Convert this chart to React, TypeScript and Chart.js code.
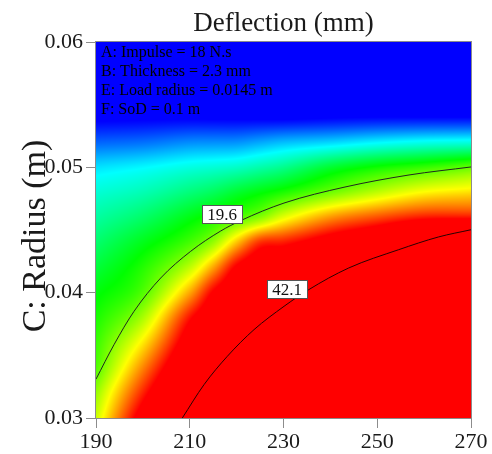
import React, { useEffect, useRef } from "react";
import { Chart, registerables } from "chart.js";

Chart.register(...registerables);

// ---- data ----
const deflectionCols = [190, 200, 210, 215, 220, 225, 230, 240, 250, 260, 270];
const radiusRows = [0.030, 0.032, 0.034, 0.036, 0.038, 0.040, 0.042, 0.044, 0.046, 0.048, 0.050, 0.052, 0.054, 0.056, 0.058, 0.060];

// response (deflection, mm) along each column, from radius 0.030 up to 0.060
const resp190 = [23.0, 21.3, 19.0, 18.2, 17.2, 16.1, 14.6, 13.0, 11.3, 9.6, 7.3, 3.2, -0.5, -2.2, -5.0, -8.0];
const resp200 = [35.0, 31.9, 28.7, 25.4, 22.0, 19.1, 17.6, 15.7, 13.2, 10.7, 8.1, 3.6, -0.4, -2.4, -5.2, -8.5];
const resp210 = [43.3, 40.7, 38.1, 35.4, 32.5, 27.6, 22.7, 18.7, 15.9, 12.6, 9.2, 4.5, -0.3, -2.5, -5.5, -9.0];
const resp215 = [46.6, 44.1, 41.6, 38.8, 36.0, 33.3, 27.7, 21.4, 17.3, 13.6, 9.6, 4.6, -0.35, -2.6, -5.8, -9.2];
const resp220 = [49.2, 46.7, 44.2, 41.6, 38.9, 36.2, 33.5, 26.7, 19.0, 15.0, 10.1, 4.7, -0.4, -2.8, -6.0, -9.5];
const resp225 = [54.5, 51.5, 48.2, 44.9, 41.6, 38.6, 35.6, 31.5, 20.9, 16.2, 11.0, 5.4, -0.45, -2.9, -6.0, -9.7];
const resp230 = [58.0, 54.5, 51.0, 47.5, 43.9, 40.1, 36.4, 32.2, 24.0, 17.4, 12.0, 6.1, -0.5, -3.0, -6.0, -10.0];
const resp240 = [65.8, 61.8, 57.7, 53.5, 49.2, 44.7, 40.0, 35.1, 28.2, 20.1, 14.95, 6.9, -0.2, -3.2, -6.5, -10.5];
const resp250 = [75.0, 70.5, 66.0, 61.0, 56.0, 50.5, 44.6, 37.9, 30.5, 22.7, 16.9, 8.0, 0.0, -3.5, -7.0, -11.0];
const resp260 = [85.0, 80.0, 75.0, 69.5, 63.5, 57.0, 50.0, 42.7, 32.3, 24.9, 18.2, 8.8, 0.0, -3.8, -7.5, -11.5];
const resp270 = [93.0, 88.0, 82.0, 76.0, 69.0, 62.0, 54.0, 46.0, 32.5, 25.8, 19.7, 9.2, 0.0, -4.0, -8.0, -12.0];
const responseColumns = [resp190, resp200, resp210, resp215, resp220, resp225, resp230, resp240, resp250, resp260, resp270];

const colorMin = 0;
const colorMax = 33;

// contour lines
const contour196X = [190, 193.84, 198.11, 203.8, 210.2, 216.6, 220.93, 230.1, 243.12, 256.77, 270];
const contour196Y = [0.0331, 0.03585, 0.03851, 0.04117, 0.0433, 0.04492, 0.04576, 0.04715, 0.04843, 0.04939, 0.05003];
const contour421X = [208.41, 213.04, 218.01, 223.71, 230.11, 235.38, 243.91, 254.58, 263.11, 270];
const contour421Y = [0.03, 0.03266, 0.03492, 0.03705, 0.03891, 0.04024, 0.04197, 0.04343, 0.04445, 0.04502];

const contourLabels = ["19.6", "42.1"];
const contourLabelX = [216.9, 230.75];
const contourLabelY = [0.04628, 0.04029];

const factorLines = [
  "A: Impulse = 18 N.s",
  "B: Thickness = 2.3 mm",
  "E: Load radius = 0.0145 m",
  "F: SoD = 0.1 m",
];

const xTicks = [190, 210, 230, 250, 270];
const yTicks = [0.03, 0.04, 0.05, 0.06];
const chartTitle = "Deflection (mm)";
const yTitle = "C: Radius (m)";

const SERIF = '"Liberation Serif", "Times New Roman", Times, serif';
const FRAME = "#8c8c8c";
const TEXT = "#1a1a1a";

const colorStops: [number, number, number][] = [
  [0, 0, 255],
  [0, 255, 255],
  [0, 255, 0],
  [255, 255, 0],
  [255, 0, 0],
];

function colorFor(v: number): [number, number, number] {
  let t = (v - colorMin) / (colorMax - colorMin);
  t = Math.max(0, Math.min(1, t));
  const s = t * (colorStops.length - 1);
  const i = Math.min(colorStops.length - 2, Math.floor(s));
  const f = s - i;
  const a = colorStops[i];
  const b = colorStops[i + 1];
  return [a[0] + (b[0] - a[0]) * f, a[1] + (b[1] - a[1]) * f, a[2] + (b[2] - a[2]) * f];
}

function locate(arr: number[], v: number): [number, number] {
  if (v <= arr[0]) return [0, 0];
  const n = arr.length;
  if (v >= arr[n - 1]) return [n - 2, 1];
  for (let i = 0; i < n - 1; i++) {
    if (v >= arr[i] && v <= arr[i + 1]) return [i, (v - arr[i]) / (arr[i + 1] - arr[i])];
  }
  return [n - 2, 1];
}

function tangent(pos: number[], vals: number[], i: number) {
  const n = pos.length;
  if (i <= 0) return (vals[1] - vals[0]) / (pos[1] - pos[0]);
  if (i >= n - 1) return (vals[n - 1] - vals[n - 2]) / (pos[n - 1] - pos[n - 2]);
  return (vals[i + 1] - vals[i - 1]) / (pos[i + 1] - pos[i - 1]);
}

// cubic Hermite (Catmull-Rom style tangents) on a non-uniform grid
function hermite(pos: number[], vals: number[], i: number, f: number) {
  const h = pos[i + 1] - pos[i];
  const m0 = tangent(pos, vals, i) * h;
  const m1 = tangent(pos, vals, i + 1) * h;
  const f2 = f * f;
  const f3 = f2 * f;
  return (2 * f3 - 3 * f2 + 1) * vals[i] + (f3 - 2 * f2 + f) * m0 + (-2 * f3 + 3 * f2) * vals[i + 1] + (f3 - f2) * m1;
}

const heatmapPlugin = {
  id: "heatmap",
  beforeDatasetsDraw(chart: any) {
    const { ctx, chartArea: a } = chart;
    const xs = chart.scales.x;
    const ys = chart.scales.y;
    const w = Math.round(a.right - a.left);
    const h = Math.round(a.bottom - a.top);
    const off = document.createElement("canvas");
    off.width = w;
    off.height = h;
    const octx = off.getContext("2d")!;
    const img = octx.createImageData(w, h);
    const nc = deflectionCols.length;
    const colIdx: [number, number][] = [];
    for (let i = 0; i < w; i++) {
      colIdx.push(locate(deflectionCols, xs.getValueForPixel(a.left + i + 0.5)));
    }
    const along = new Array(nc).fill(0);
    for (let j = 0; j < h; j++) {
      const [ri, rf] = locate(radiusRows, ys.getValueForPixel(a.top + j + 0.5));
      for (let c = 0; c < nc; c++) {
        along[c] = hermite(radiusRows, responseColumns[c], ri, rf);
      }
      for (let i = 0; i < w; i++) {
        const [ci, cf] = colIdx[i];
        const v = hermite(deflectionCols, along, ci, cf);
        const [r, g, b] = colorFor(v);
        const k = (j * w + i) * 4;
        img.data[k] = r;
        img.data[k + 1] = g;
        img.data[k + 2] = b;
        img.data[k + 3] = 255;
      }
    }
    octx.putImageData(img, 0, 0);
    ctx.save();
    ctx.drawImage(off, a.left, a.top);
    ctx.restore();
  },
  afterDatasetsDraw(chart: any) {
    const { ctx, chartArea: a } = chart;
    const xs = chart.scales.x;
    const ys = chart.scales.y;
    ctx.save();
    ctx.fillStyle = "#000";
    ctx.font = `16px ${SERIF}`;
    ctx.textAlign = "left";
    ctx.textBaseline = "alphabetic";
    factorLines.forEach((t, i) => ctx.fillText(t, a.left + 5, a.top + 15 + i * 19));
    ctx.font = `17px ${SERIF}`;
    contourLabels.forEach((t, i) => {
      const px = xs.getPixelForValue(contourLabelX[i]);
      const py = ys.getPixelForValue(contourLabelY[i]);
      const tw = ctx.measureText(t).width;
      const bw = Math.round(tw + 10);
      const bh = 18;
      const bx = Math.round(px - bw / 2) + 0.5;
      const by = Math.round(py - bh / 2) + 0.5;
      ctx.fillStyle = "#fff";
      ctx.fillRect(bx, by, bw, bh);
      ctx.strokeStyle = "#555";
      ctx.lineWidth = 1;
      ctx.strokeRect(bx, by, bw, bh);
      ctx.fillStyle = "#111";
      ctx.textAlign = "center";
      ctx.textBaseline = "middle";
      ctx.fillText(t, px, by + bh / 2 + 1);
    });
    ctx.strokeStyle = FRAME;
    ctx.lineWidth = 1;
    ctx.strokeRect(Math.round(a.left) - 0.5, Math.round(a.top) - 0.5, Math.round(a.right - a.left) + 1, Math.round(a.bottom - a.top) + 1);
    ctx.restore();
  },
  afterDraw(chart: any) {
    const { ctx, chartArea: a } = chart;
    ctx.save();
    ctx.fillStyle = TEXT;
    ctx.font = `27px ${SERIF}`;
    ctx.textAlign = "center";
    ctx.textBaseline = "alphabetic";
    ctx.fillText(chartTitle, (a.left + a.right) / 2, 31);
    ctx.translate(36, 236);
    ctx.rotate(-Math.PI / 2);
    ctx.font = `34px ${SERIF}`;
    ctx.textBaseline = "middle";
    ctx.fillText(yTitle, 0, 0);
    ctx.restore();
  },
};

export default function App() {
  const ref = useRef<HTMLCanvasElement | null>(null);
  useEffect(() => {
    if (!ref.current) return;
    const chart = new Chart(ref.current, {
      type: "scatter",
      data: {
        datasets: [
          {
            label: "19.6",
            data: contour196X.map((x, i) => ({ x, y: contour196Y[i] })),
            showLine: true,
            borderColor: "#1e2a1e",
            borderWidth: 1,
            pointRadius: 0,
            cubicInterpolationMode: "monotone",
          },
          {
            label: "42.1",
            data: contour421X.map((x, i) => ({ x, y: contour421Y[i] })),
            showLine: true,
            borderColor: "#2a0000",
            borderWidth: 1,
            pointRadius: 0,
            cubicInterpolationMode: "monotone",
          },
        ],
      },
      options: {
        animation: false,
        responsive: false,
        devicePixelRatio: 1,
        layout: { padding: { top: 42, right: 21, left: 0, bottom: 0 } },
        plugins: { legend: { display: false }, tooltip: { enabled: false }, title: { display: false } },
        scales: {
          x: {
            type: "linear",
            min: 190,
            max: 270,
            afterBuildTicks: (s: any) => {
              s.ticks = xTicks.map((v) => ({ value: v }));
            },
            afterFit: (s: any) => {
              s.height = 36;
            },
            ticks: { font: { family: SERIF, size: 22 }, color: TEXT, padding: 1, maxRotation: 0 },
            grid: { drawOnChartArea: false, drawTicks: true, tickLength: 10, color: FRAME, tickColor: FRAME },
            border: { display: true, color: FRAME },
          },
          y: {
            type: "linear",
            min: 0.03,
            max: 0.06,
            afterBuildTicks: (s: any) => {
              s.ticks = yTicks.map((v) => ({ value: v }));
            },
            afterFit: (s: any) => {
              s.width = 96;
            },
            ticks: {
              font: { family: SERIF, size: 22 },
              color: TEXT,
              padding: 3,
              callback: (v: any) => Number(v).toFixed(2),
            },
            grid: { drawOnChartArea: false, drawTicks: true, tickLength: 10, color: FRAME, tickColor: FRAME },
            border: { display: true, color: FRAME },
          },
        },
      },
      plugins: [heatmapPlugin],
    } as any);
    return () => chart.destroy();
  }, []);
  return (
    <div style={{ position: "fixed", left: 0, top: 0, width: 492, height: 454, background: "#fff" }}>
      <canvas ref={ref} width={492} height={454} style={{ display: "block" }} />
    </div>
  );
}
